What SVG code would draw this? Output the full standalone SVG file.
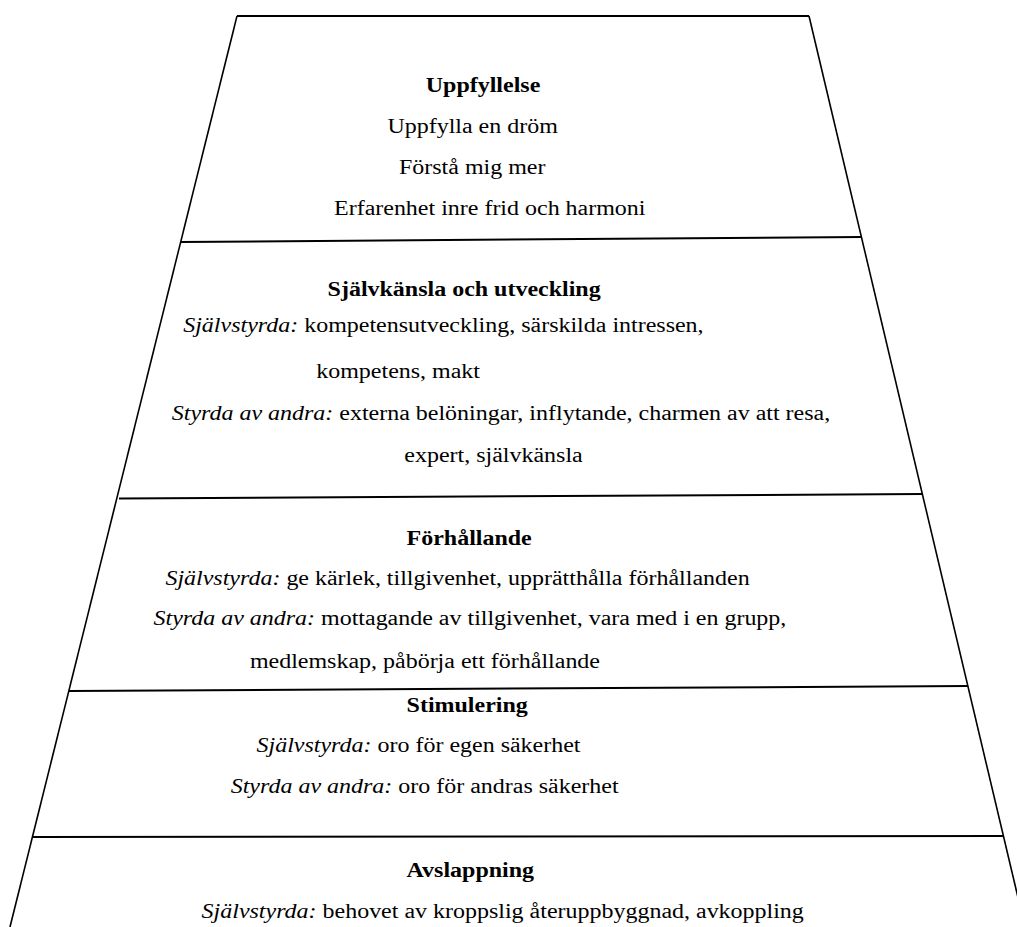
<svg xmlns="http://www.w3.org/2000/svg" width="1017" height="927" viewBox="0 0 1017 927">
<style>
.side{stroke:#000;stroke-width:1.6;fill:none}
.sep{stroke:#000;stroke-width:2;fill:none}
text{font-family:"Liberation Serif","Times New Roman",serif;font-size:20.5px;fill:#000}
.h{font-weight:bold}
.i{font-style:italic}
</style>
<rect width="1017" height="927" fill="#fff"/>
<g id="frame">
<line class="side" x1="237" y1="16" x2="10" y2="927"/>
<line class="side" x1="809" y1="16" x2="1025" y2="927"/>
<line class="sep" x1="237" y1="16" x2="809" y2="16"/>
<line class="sep" x1="180" y1="242" x2="862" y2="237"/>
<line class="sep" x1="119" y1="498.5" x2="923" y2="494"/>
<line class="sep" x1="69" y1="691" x2="968" y2="686"/>
<line class="sep" x1="33" y1="837" x2="1004" y2="836"/>
</g>
<g transform="scale(1.17 1)">
<g id="uppfyllelse">
<text class="h" x="363.9" y="92.5">Uppfyllelse</text>
<text x="331.1" y="133.3">Uppfylla en dröm</text>
<text x="341" y="174.2">Förstå mig mer</text>
<text x="285.5" y="215">Erfarenhet inre frid och harmoni</text>
</g>
<g id="sjalvkansla">
<text class="h" x="280" y="295.7">Självkänsla och utveckling</text>
<text x="156.6" y="331.7"><tspan class="i">Självstyrda:</tspan> kompetensutveckling, särskilda intressen,</text>
<text x="270.3" y="378.3">kompetens, makt</text>
<text x="146.8" y="420"><tspan class="i">Styrda av andra:</tspan> externa belöningar, inflytande, charmen av att resa,</text>
<text x="345.6" y="461.7">expert, självkänsla</text>
</g>
<g id="forhallande">
<text class="h" x="347.5" y="545">Förhållande</text>
<text x="141.4" y="585"><tspan class="i">Självstyrda:</tspan> ge kärlek, tillgivenhet, upprätthålla förhållanden</text>
<text x="131.2" y="625"><tspan class="i">Styrda av andra:</tspan> mottagande av tillgivenhet, vara med i en grupp,</text>
<text x="213.6" y="668">medlemskap, påbörja ett förhållande</text>
</g>
<g id="stimulering">
<text class="h" x="347.5" y="711.8">Stimulering</text>
<text x="219.3" y="751.8"><tspan class="i">Självstyrda:</tspan> oro för egen säkerhet</text>
<text x="197.2" y="793.5"><tspan class="i">Styrda av andra:</tspan> oro för andras säkerhet</text>
</g>
<g id="avslappning">
<text class="h" x="347.5" y="876.8">Avslappning</text>
<text x="172.3" y="918.5"><tspan class="i">Självstyrda:</tspan> behovet av kroppslig återuppbyggnad, avkoppling</text>
</g>
</g>
</svg>
